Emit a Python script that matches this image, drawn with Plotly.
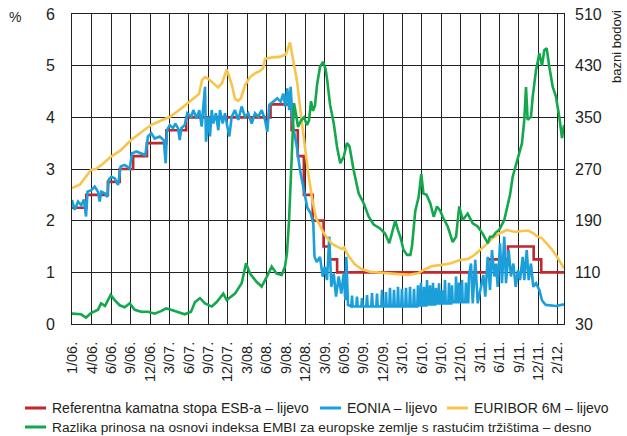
import plotly.graph_objects as go

# ---------------- data (x in decimal years) ----------------
ecb_x = [2006.000, 2006.181, 2006.455, 2006.605, 2006.776, 2006.951, 2007.197, 2007.449,
         2008.519, 2008.786, 2008.865, 2008.942, 2009.055, 2009.192, 2009.268, 2009.364,
         2011.282, 2011.532, 2011.858, 2011.954, 2012.243]
ecb_rate = [2.25, 2.50, 2.75, 3.00, 3.25, 3.50, 3.75, 4.00,
            4.25, 3.75, 3.25, 2.50, 2.00, 1.50, 1.25, 1.00,
            1.25, 1.50, 1.25, 1.00, 1.00]

eonia_x = [
    2006.000, 2006.034, 2006.076, 2006.118, 2006.152, 2006.178, 2006.197, 2006.245, 2006.288, 2006.330,
    2006.351, 2006.372, 2006.415, 2006.448, 2006.466, 2006.499, 2006.542, 2006.584, 2006.618, 2006.669,
    2006.732, 2006.761, 2006.816, 2006.879, 2006.930, 2006.964, 2007.006, 2007.049, 2007.113, 2007.164,
    2007.189, 2007.205, 2007.240, 2007.282, 2007.311, 2007.345, 2007.367, 2007.387, 2007.430, 2007.463,
    2007.514, 2007.539, 2007.582, 2007.615, 2007.646, 2007.666, 2007.688, 2007.700, 2007.730, 2007.751,
    2007.773, 2007.793, 2007.827, 2007.856, 2007.878, 2007.912, 2007.941, 2007.971, 2007.996, 2008.026,
    2008.068, 2008.110, 2008.153, 2008.195, 2008.237, 2008.280, 2008.322, 2008.364, 2008.407, 2008.449,
    2008.478, 2008.504, 2008.554, 2008.605, 2008.648, 2008.681, 2008.707, 2008.732, 2008.757, 2008.775,
    2008.800, 2008.830, 2008.859, 2008.893, 2008.927, 2008.957, 2008.986, 2009.029, 2009.062, 2009.077,
    2009.105, 2009.147, 2009.181, 2009.207, 2009.236, 2009.265, 2009.290, 2009.321, 2009.350, 2009.384,
    2009.417, 2009.448, 2009.468, 2009.481, 2009.502,
    2009.544, 2009.553, 2009.562, 2009.607, 2009.616, 2009.625, 2009.671, 2009.680, 2009.689,
    2009.734, 2009.743, 2009.752, 2009.798, 2009.807, 2009.816, 2009.861, 2009.870, 2009.879,
    2009.925, 2009.934, 2009.943, 2009.975, 2009.984, 2009.993, 2010.026, 2010.035, 2010.044,
    2010.077, 2010.086, 2010.095, 2010.128, 2010.137, 2010.146, 2010.178, 2010.187, 2010.196,
    2010.229, 2010.238, 2010.247, 2010.280, 2010.289, 2010.298, 2010.331, 2010.340, 2010.349,
    2010.381, 2010.390, 2010.399, 2010.419, 2010.428, 2010.437, 2010.458, 2010.467, 2010.476,
    2010.496, 2010.505, 2010.514, 2010.534, 2010.543, 2010.552, 2010.572, 2010.581, 2010.590,
    2010.610, 2010.619, 2010.628, 2010.648, 2010.657, 2010.666, 2010.686, 2010.695, 2010.704,
    2010.724, 2010.733, 2010.742, 2010.775, 2010.784, 2010.793, 2010.813, 2010.822, 2010.831,
    2010.864, 2010.873, 2010.882, 2010.902, 2010.911, 2010.920, 2010.940, 2010.949, 2010.958,
    2010.990, 2010.999, 2011.008, 2011.029, 2011.038,
    2011.063, 2011.085, 2011.117, 2011.148, 2011.190, 2011.219, 2011.244, 2011.275, 2011.304, 2011.329,
    2011.359, 2011.380, 2011.402, 2011.431, 2011.456, 2011.485, 2011.507, 2011.541, 2011.570, 2011.600,
    2011.630, 2011.659, 2011.685, 2011.719, 2011.739, 2011.770, 2011.795, 2011.824, 2011.853, 2011.888,
    2011.930, 2011.964, 2011.993, 2012.014, 2012.141, 2012.243]
eonia = [
    2.40, 2.21, 2.37, 2.30, 2.41, 2.08, 2.56, 2.59, 2.66, 2.56,
    2.37, 2.56, 2.53, 2.46, 2.79, 2.85, 2.82, 2.69, 3.05, 3.08,
    3.01, 3.30, 3.34, 3.30, 3.27, 3.63, 3.69, 3.59, 3.63, 3.56,
    3.11, 3.75, 3.85, 3.79, 3.88, 3.79, 3.56, 3.79, 3.85, 4.08,
    4.01, 4.14, 3.98, 4.14, 3.82, 4.21, 4.59, 3.53, 4.01, 3.63,
    4.14, 3.88, 4.08, 3.75, 4.14, 3.88, 4.08, 3.82, 3.63, 4.01,
    4.14, 3.95, 4.21, 4.01, 4.08, 3.88, 4.08, 4.01, 4.14, 3.95,
    3.72, 4.24, 4.30, 4.37, 4.30, 4.46, 4.21, 4.56, 4.14, 4.59,
    3.88, 3.63, 3.37, 2.98, 2.72, 2.46, 2.25, 2.14, 1.95, 1.30,
    1.20, 1.30, 0.92, 1.11, 0.85, 1.69, 0.72, 0.98, 0.53, 0.92,
    0.59, 0.98, 0.46, 1.30, 0.37,
    0.34, 0.55, 0.34, 0.34, 0.53, 0.34, 0.34, 0.50, 0.34,
    0.34, 0.56, 0.34, 0.34, 0.60, 0.34, 0.34, 0.59, 0.34,
    0.34, 0.66, 0.34, 0.34, 0.62, 0.34, 0.34, 0.70, 0.34,
    0.34, 0.66, 0.34, 0.34, 0.72, 0.34, 0.34, 0.68, 0.34,
    0.34, 0.70, 0.34, 0.34, 0.72, 0.34, 0.34, 0.68, 0.34,
    0.34, 0.75, 0.36, 0.36, 0.80, 0.36, 0.36, 0.72, 0.36,
    0.36, 0.85, 0.38, 0.38, 0.75, 0.38, 0.38, 0.80, 0.38,
    0.38, 0.70, 0.40, 0.40, 0.79, 0.40, 0.40, 0.65, 0.40,
    0.40, 0.85, 0.40, 0.40, 0.80, 0.40, 0.40, 0.75, 0.42,
    0.42, 0.92, 0.42, 0.42, 0.80, 0.42, 0.42, 0.85, 0.42,
    0.42, 0.80, 0.42, 0.42, 0.95,
    1.17, 0.40, 1.24, 0.40, 0.70, 0.95, 0.53, 1.30, 0.66, 1.43,
    0.92, 1.17, 0.72, 1.56, 0.79, 1.69, 0.79, 1.43, 0.92, 1.17,
    0.72, 1.04, 0.85, 1.30, 0.85, 1.43, 0.85, 1.17, 0.72, 0.79,
    0.66, 0.46, 0.40, 0.37, 0.35, 0.38]

euribor_x = [
    2006.000, 2006.102, 2006.190, 2006.241, 2006.305, 2006.393, 2006.495, 2006.609, 2006.749, 2006.876,
    2007.002, 2007.117, 2007.244, 2007.370, 2007.472, 2007.573, 2007.611, 2007.650, 2007.688, 2007.726,
    2007.776, 2007.853, 2007.903, 2007.963, 2007.992, 2008.030, 2008.068, 2008.106, 2008.144, 2008.195,
    2008.259, 2008.322, 2008.386, 2008.424, 2008.449, 2008.538, 2008.639, 2008.715, 2008.766, 2008.804,
    2008.855, 2008.893, 2008.944, 2008.995, 2009.045, 2009.096, 2009.147, 2009.210, 2009.299, 2009.375,
    2009.426, 2009.451, 2009.502, 2009.591, 2009.680, 2009.781, 2009.908, 2010.099, 2010.264, 2010.390,
    2010.479, 2010.568, 2010.670, 2010.796, 2010.923, 2011.025, 2011.101, 2011.177, 2011.266, 2011.342,
    2011.431, 2011.520, 2011.621, 2011.710, 2011.786, 2011.850, 2011.900, 2011.964, 2012.027, 2012.091,
    2012.154, 2012.243]
euribor = [
    2.63, 2.70, 2.88, 2.98, 3.00, 3.10, 3.24, 3.35, 3.56, 3.70,
    3.85, 3.93, 4.01, 4.15, 4.27, 4.39, 4.45, 4.72, 4.78, 4.75,
    4.68, 4.58, 4.66, 4.92, 4.80, 4.62, 4.36, 4.32, 4.37, 4.62,
    4.78, 4.85, 4.90, 4.95, 5.13, 5.16, 5.17, 5.22, 5.45, 5.12,
    4.70, 4.20, 3.55, 2.95, 2.45, 2.05, 1.90, 1.72, 1.55, 1.48,
    1.45, 1.48, 1.33, 1.15, 1.06, 1.01, 0.99, 0.97, 0.95, 0.98,
    1.06, 1.12, 1.14, 1.17, 1.24, 1.26, 1.33, 1.43, 1.55, 1.67,
    1.76, 1.82, 1.78, 1.80, 1.81, 1.76, 1.70, 1.66, 1.56, 1.44,
    1.30, 1.08]

embi_x = [
    2006.000, 2006.076, 2006.114, 2006.178, 2006.241, 2006.330, 2006.368, 2006.419, 2006.457, 2006.491,
    2006.542, 2006.605, 2006.669, 2006.732, 2006.796, 2006.876, 2006.964, 2007.049, 2007.129, 2007.193,
    2007.256, 2007.345, 2007.430, 2007.510, 2007.561, 2007.624, 2007.688, 2007.773, 2007.836, 2007.920,
    2007.963, 2008.068, 2008.153, 2008.208, 2008.259, 2008.344, 2008.407, 2008.471, 2008.534, 2008.597,
    2008.661, 2008.703, 2008.728, 2008.754, 2008.779, 2008.798, 2008.817, 2008.842, 2008.868, 2008.906,
    2008.944, 2008.982, 2009.007, 2009.033, 2009.058, 2009.083, 2009.109, 2009.147, 2009.185, 2009.217,
    2009.236, 2009.274, 2009.321, 2009.363, 2009.404, 2009.448, 2009.489, 2009.521, 2009.574, 2009.638,
    2009.701, 2009.765, 2009.828, 2009.908, 2009.972, 2010.026, 2010.060, 2010.102, 2010.137, 2010.166,
    2010.206, 2010.251, 2010.293, 2010.314, 2010.356, 2010.399, 2010.432, 2010.460, 2010.498, 2010.546,
    2010.590, 2010.631, 2010.670, 2010.704, 2010.767, 2010.831, 2010.873, 2010.914, 2010.958, 2011.021,
    2011.085, 2011.148, 2011.211, 2011.275, 2011.304, 2011.338, 2011.380, 2011.422, 2011.485, 2011.528,
    2011.558, 2011.592, 2011.655, 2011.685, 2011.710, 2011.739, 2011.761, 2011.782, 2011.824, 2011.846,
    2011.888, 2011.930, 2011.964, 2011.993, 2012.023, 2012.057, 2012.100, 2012.141, 2012.183, 2012.218,
    2012.243]
embi = [
    46, 45, 45, 40, 47, 52, 62, 58, 66, 75,
    67, 59, 56, 62, 52, 49, 49, 46, 50, 54,
    52, 49, 45, 49, 64, 70, 62, 57, 64, 77,
    67, 77, 93, 124, 108, 95, 88, 103, 119, 108,
    106, 119, 140, 190, 260, 330, 372, 355, 335, 345,
    350, 338, 345, 375, 360, 368, 400, 428, 436, 425,
    410, 370, 341, 304, 279, 289, 310, 305, 268, 232,
    217, 196, 184, 178, 170, 155, 170, 190, 175, 165,
    145, 137, 137, 150, 205, 227, 262, 232, 230, 217,
    196, 212, 206, 196, 181, 157, 165, 212, 191, 201,
    186, 181, 170, 155, 165, 165, 172, 176, 191, 217,
    230, 258, 284, 300, 310, 346, 397, 346, 351, 382,
    423, 449, 430, 454, 457, 428, 397, 382, 351, 318,
    338]

x_tick_labels = ["1/06.", "4/06.", "6/06.", "9/06.", "12/06.", "3/07.", "6/07.", "9/07.",
                 "12/07.", "3/08.", "6/08.", "9/08.", "12/08.", "3/09.", "6/09.", "9/09.",
                 "12/09.", "3/10.", "6/10.", "9/10.", "12/10.", "3/11.", "6/11.", "9/11.",
                 "12/11.", "2/12."]
left_ticks = [0, 1, 2, 3, 4, 5, 6]
right_ticks = [30, 110, 190, 270, 350, 430, 510]

series_names = ["Referentna kamatna stopa ESB-a – lijevo", "EONIA – lijevo",
                "EURIBOR 6M – lijevo",
                "Razlika prinosa na osnovi indeksa EMBI za europske zemlje s rastućim tržištima – desno"]

# ---------------- styling ----------------
FONT = "Liberation Sans, Arial, sans-serif"
TXT = "#231f20"
GRID = "#222222"
RED, BLUE, YELLOW, GREEN = "#C1272D", "#1A9FDB", "#F7C54B", "#12A84B"
colors = [RED, BLUE, YELLOW, GREEN]
X0, X1 = 2006.0, 2012.243
PLOT_L, PLOT_R, PLOT_T, PLOT_B = 72, 564, 14, 324
W_PX, H_PX = PLOT_R - PLOT_L, PLOT_B - PLOT_T
tick_step = (X1 - X0) * 19.41 / W_PX
tick_vals = [X0 + 0.006 + k * tick_step for k in range(len(x_tick_labels))]


def px_x(px):
    return (px - PLOT_L) / W_PX


def px_y(py):
    return (PLOT_B - py) / H_PX


fig = go.Figure()
fig.add_trace(go.Scatter(x=ecb_x, y=ecb_rate, name=series_names[0], mode="lines",
                         line=dict(color=RED, width=2.6, shape="hv")))
fig.add_trace(go.Scatter(x=eonia_x, y=eonia, name=series_names[1], mode="lines",
                         line=dict(color=BLUE, width=2.6)))
fig.add_trace(go.Scatter(x=euribor_x, y=euribor, name=series_names[2], mode="lines",
                         line=dict(color=YELLOW, width=2.6)))
fig.add_trace(go.Scatter(x=embi_x, y=embi, name=series_names[3], mode="lines", yaxis="y2",
                         line=dict(color=GREEN, width=2.6)))

# legend drawn as line swatches + labels (two rows as in the reference)
legend_pos = [(25, 408), (320, 408), (447, 408), (25, 427)]
legend_sizes = [14, 14, 14, 13.7]
shapes, annotations = [], []
for (lx, ly), name, col, fs in zip(legend_pos, series_names, colors, legend_sizes):
    shapes.append(dict(type="line", xref="paper", yref="paper",
                       x0=px_x(lx), x1=px_x(lx + 21), y0=px_y(ly), y1=px_y(ly),
                       line=dict(color=col, width=3)))
    annotations.append(dict(text=name, xref="paper", yref="paper", x=px_x(lx + 25), y=px_y(ly),
                            xanchor="left", yanchor="middle", showarrow=False,
                            font=dict(family=FONT, size=fs, color=TXT)))

annotations.append(dict(text="%", xref="paper", yref="paper", x=px_x(14.5), y=px_y(17),
                        xanchor="center", yanchor="middle", showarrow=False,
                        font=dict(family=FONT, size=14, color=TXT)))
annotations.append(dict(text="bazni bodovi", xref="paper", yref="paper", x=px_x(616),
                        y=px_y(47), xanchor="center", yanchor="middle", textangle=-90,
                        showarrow=False, font=dict(family=FONT, size=13, color=TXT)))

fig.update_layout(
    width=627, height=436,
    margin=dict(l=PLOT_L, r=627 - PLOT_R, t=PLOT_T, b=436 - PLOT_B, autoexpand=False),
    paper_bgcolor="white", plot_bgcolor="white",
    font=dict(family=FONT, size=15, color=TXT),
    showlegend=False,
    xaxis=dict(range=[X0, X1], tickmode="array", tickvals=tick_vals, ticktext=x_tick_labels,
               tickangle=-90, showgrid=True, gridcolor=GRID, gridwidth=1,
               showline=True, linecolor=GRID, linewidth=1, mirror=True, ticks="",
               zeroline=False, ticklabelstandoff=11, tickfont=dict(size=14.5)),
    yaxis=dict(range=[0, 6], tickvals=left_ticks, showgrid=True, gridcolor=GRID, gridwidth=1,
               showline=True, linecolor=GRID, linewidth=1, mirror=True, ticks="",
               zeroline=False, ticklabelstandoff=13, tickfont=dict(size=16)),
    yaxis2=dict(range=[30, 510], tickvals=right_ticks, overlaying="y", side="right",
                showgrid=False, zeroline=False, ticks="", showline=False,
                ticklabelstandoff=10, tickfont=dict(size=16)),
    shapes=shapes,
    annotations=annotations,
)

fig.write_html("out.html", config={"displayModeBar": False},
               post_script="document.body.style.margin='0';")
